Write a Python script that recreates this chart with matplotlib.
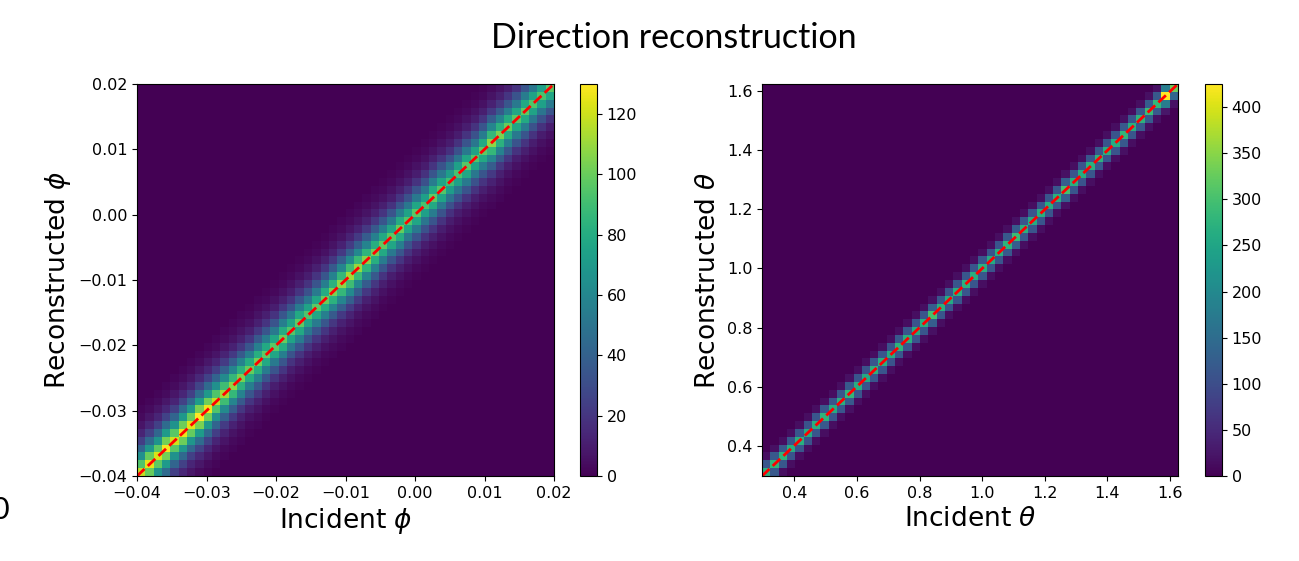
import numpy as np
import matplotlib
matplotlib.use("Agg")
import matplotlib.pyplot as plt
from matplotlib.ticker import FuncFormatter

# histogram ranges
phi_range = (-0.04, 0.02)
theta_range = (0.297, 1.625)
n_bins = 50

# peak count along the diagonal, one value per incident-angle bin
phi_peak = [118, 125, 122, 128, 120, 126, 124, 130, 127, 118,
            112, 108, 104, 100, 102, 98, 96, 100, 95, 98,
            94, 97, 100, 104, 108, 112, 110, 106, 102, 98,
            96, 100, 94, 96, 92, 98, 95, 90, 92, 96,
            94, 98, 108, 104, 100, 96, 98, 94, 92, 96]
# relative spread across the diagonal, offsets -8..+8 bins
phi_spread = [0.015, 0.03, 0.06, 0.11, 0.2, 0.35, 0.55, 0.8, 1.0,
              0.8, 0.55, 0.35, 0.2, 0.11, 0.06, 0.03, 0.015]

theta_peak = [270, 280, 275, 265, 270, 260, 268, 275, 262, 270,
              280, 265, 258, 272, 268, 260, 275, 270, 262, 266,
              300, 270, 262, 268, 272, 265, 270, 262, 268, 275,
              290, 270, 262, 268, 265, 270, 300, 268, 262, 270,
              275, 268, 262, 280, 270, 275, 290, 280, 425, 330]
# offsets -2..+2 bins
theta_spread = [0.06, 0.42, 1.0, 0.42, 0.06]


def build_hist(peak, spread):
    """Fill a 2D count table from diagonal peaks and cross-diagonal spread"""
    n = len(peak)
    half = len(spread) // 2
    H = np.zeros((n, n))
    for i in range(n):
        for k, w in enumerate(spread):
            j = i + k - half
            if 0 <= j < n:
                H[i, j] = peak[i] * w
    return H


def draw_panel(ax, cax, rng, peak, spread, label, ticks, cticks):
    edges = np.linspace(rng[0], rng[1], n_bins + 1)
    H = build_hist(peak, spread)
    mesh = ax.pcolormesh(edges, edges, H.T, cmap='viridis', vmin=0)
    ax.plot(rng, rng, '--', color='red', linewidth=2)
    ax.set_xlim(rng)
    ax.set_ylim(rng)
    ax.set_xticks(ticks)
    ax.set_yticks(ticks)
    ax.tick_params(labelsize=11.5)
    ax.set_xlabel('Incident ' + label, fontsize=19)
    ax.set_ylabel('Reconstructed ' + label, fontsize=19)
    cb = plt.colorbar(mesh, cax=cax)
    cb.set_ticks(cticks)
    cb.ax.tick_params(labelsize=11.5)


fig = plt.figure(figsize=(12.99, 5.61), dpi=100)

ax1 = fig.add_axes([0.1055, 0.1515, 0.321, 0.6988])
cax1 = fig.add_axes([0.4465, 0.1515, 0.0131, 0.6988])
ax2 = fig.add_axes([0.5866, 0.1515, 0.3202, 0.6988])
cax2 = fig.add_axes([0.9276, 0.1515, 0.0131, 0.6988])

draw_panel(ax1, cax1, phi_range, phi_peak, phi_spread, r'$\phi$',
           [-0.04, -0.03, -0.02, -0.01, 0.00, 0.01, 0.02],
           [0, 20, 40, 60, 80, 100, 120])
fmt2 = FuncFormatter(lambda v, p: ('%.2f' % v).replace('-', '\u2212'))
ax1.xaxis.set_major_formatter(fmt2)
ax1.yaxis.set_major_formatter(fmt2)

draw_panel(ax2, cax2, theta_range, theta_peak, theta_spread, r'$\theta$',
           [0.4, 0.6, 0.8, 1.0, 1.2, 1.4, 1.6],
           [0, 50, 100, 150, 200, 250, 300, 350, 400])

fig.text(0.5185, 0.932, 'Direction reconstruction', ha='center', va='center',
         fontsize=24.5, family=['Lato', 'DejaVu Sans'])
fig.text(0.0, 0.091, '0', ha='center', va='center',
         fontsize=22, family=['Lato', 'DejaVu Sans'])

fig.savefig('out.png', dpi=100)
